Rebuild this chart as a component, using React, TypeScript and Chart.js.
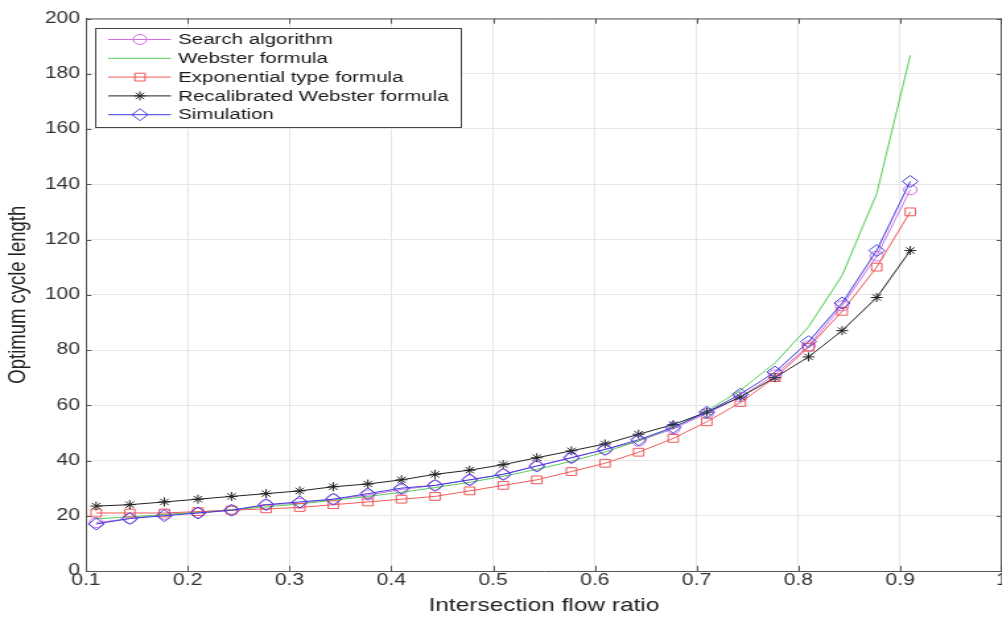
import React, { useEffect, useRef } from "react";
import { Chart, registerables } from "chart.js";

Chart.register(...registerables);

// ---- data ----
const flowRatio = [
  0.11, 0.143, 0.177, 0.21, 0.243, 0.277, 0.31, 0.343, 0.377, 0.41, 0.443, 0.477,
  0.51, 0.543, 0.577, 0.61, 0.643, 0.677, 0.71, 0.743, 0.777, 0.81, 0.843, 0.877, 0.91,
];
const searchAlgorithm = [
  17.5, 19, 20.5, 21, 22, 24, 24.5, 26, 27.5, 29.5, 31, 33, 35, 38, 41, 44, 47, 51.5,
  57, 63, 71, 81.5, 96, 114, 138,
];
const websterFormula = [
  18.9, 19.6, 20.4, 21.3, 22.2, 23.2, 24.3, 25.6, 27.0, 28.5, 30.2, 32.1, 34.3, 36.8,
  39.7, 43.1, 47.1, 52.0, 57.9, 65.4, 75.3, 88.4, 107, 136.6, 186.7,
];
const exponentialFormula = [
  21, 21, 21, 21.5, 22, 22.5, 23, 24, 25, 26, 27, 29, 31, 33, 36, 39, 43, 48, 54, 61,
  70, 81, 94, 110, 130,
];
const recalibratedWebster = [
  23.5, 24, 25, 26, 27, 28, 29, 30.5, 31.5, 33, 35, 36.5, 38.5, 41, 43.5, 46, 49.5, 53,
  57.5, 63, 70, 77.5, 87, 99, 116,
];
const simulation = [
  17, 19, 20, 21, 22, 24, 25, 26, 28, 30, 31, 33, 35, 38, 41, 44, 47.5, 52, 57.5, 64,
  72, 83, 97, 116, 141,
];
const seriesNames = [
  "Search algorithm",
  "Webster formula",
  "Exponential type formula",
  "Recalibrated Webster formula",
  "Simulation",
];
const xTicks = [0.1, 0.2, 0.3, 0.4, 0.5, 0.6, 0.7, 0.8, 0.9, 1.0];
const xTickLabels = ["0.1", "0.2", "0.3", "0.4", "0.5", "0.6", "0.7", "0.8", "0.9", "1"];
const yTicks = [0, 20, 40, 60, 80, 100, 120, 140, 160, 180, 200];
const xTitle = "Intersection flow ratio";
const yTitle = "Optimum cycle length";

// ---- styles ----
const STRETCH = 1.32;
const CANVAS_W = 766;
const CANVAS_H = 617;
const FONT = "'Liberation Sans', Arial, Helvetica, sans-serif";

const styles = [
  { color: "#d070e0", point: "circle", radius: 5 },
  { color: "#55cc55", point: false, radius: 0 },
  { color: "#ee5a5a", point: "rect", radius: 5.5 },
  { color: "#222222", point: "star", radius: 4.5 },
  { color: "#3c3cdc", point: "rectRot", radius: 6 },
];

function drawPointLocal(ctx: CanvasRenderingContext2D, style: string, r: number, x: number, y: number, color: string) {
  ctx.save();
  ctx.strokeStyle = color;
  ctx.lineWidth = 1;
  ctx.beginPath();
  if (style === "circle") {
    ctx.arc(x, y, r, 0, Math.PI * 2);
  } else if (style === "rect") {
    const s = Math.SQRT1_2 * r;
    ctx.rect(x - s, y - s, 2 * s, 2 * s);
  } else if (style === "rectRot") {
    ctx.moveTo(x - r, y);
    ctx.lineTo(x, y - r);
    ctx.lineTo(x + r, y);
    ctx.lineTo(x, y + r);
    ctx.closePath();
  } else if (style === "star") {
    for (let k = 0; k < 4; k++) {
      const ang = (k * Math.PI) / 4;
      ctx.moveTo(x - Math.cos(ang) * r, y - Math.sin(ang) * r);
      ctx.lineTo(x + Math.cos(ang) * r, y + Math.sin(ang) * r);
    }
  }
  ctx.stroke();
  ctx.restore();
}

const frameTicks = {
  id: "frameTicks",
  beforeDatasetsDraw(chart: any) {
    const { ctx, chartArea: a, scales } = chart;
    ctx.save();
    ctx.strokeStyle = "#555";
    ctx.lineWidth = 1;
    ctx.beginPath();
    ctx.moveTo(a.left, a.top + 0.5);
    ctx.lineTo(a.right, a.top + 0.5);
    ctx.moveTo(a.right - 0.5, a.top);
    ctx.lineTo(a.right - 0.5, a.bottom);
    const tl = 4;
    for (const v of xTicks) {
      const x = Math.round(scales.x.getPixelForValue(v)) + 0.5;
      ctx.moveTo(x, a.bottom);
      ctx.lineTo(x, a.bottom - tl * 1.3);
      ctx.moveTo(x, a.top);
      ctx.lineTo(x, a.top + tl * 1.3);
    }
    for (const v of yTicks) {
      const y = Math.round(scales.y.getPixelForValue(v)) + 0.5;
      ctx.moveTo(a.left, y);
      ctx.lineTo(a.left + tl, y);
      ctx.moveTo(a.right, y);
      ctx.lineTo(a.right - tl, y);
    }
    ctx.stroke();
    ctx.restore();
  },
};

const legendBox = {
  id: "legendBox",
  afterDraw(chart: any) {
    const { ctx } = chart;
    const bx = 72, by = 28, bw = 277, bh = 99;
    ctx.save();
    ctx.fillStyle = "#ffffff";
    ctx.fillRect(bx, by, bw, bh);
    ctx.strokeStyle = "#444";
    ctx.lineWidth = 1;
    ctx.strokeRect(bx + 0.5, by + 0.5, bw, bh);
    const rowY0 = 39.5, rowStep = 18.8;
    ctx.font = `15.5px ${FONT}`;
    ctx.textBaseline = "middle";
    ctx.textAlign = "left";
    seriesNames.forEach((name, i) => {
      const y = rowY0 + i * rowStep;
      const st = styles[i];
      ctx.strokeStyle = st.color;
      ctx.lineWidth = 1;
      ctx.beginPath();
      ctx.moveTo(82, y);
      ctx.lineTo(129.5, y);
      ctx.stroke();
      if (st.point) {
        drawPointLocal(ctx, st.point as string, st.radius, 106, y, st.color);
      }
      ctx.fillStyle = "#1a1a1a";
      ctx.fillText(name, 135, y + 0.5);
    });
    ctx.restore();
  },
};

export default function App() {
  const ref = useRef<HTMLCanvasElement | null>(null);

  useEffect(() => {
    if (!ref.current) return;
    const allSeries = [searchAlgorithm, websterFormula, exponentialFormula, recalibratedWebster, simulation];
    const datasets = allSeries.map((vals, i) => ({
      label: seriesNames[i],
      data: vals.map((v, k) => ({ x: flowRatio[k], y: v })),
      borderColor: styles[i].color,
      backgroundColor: "rgba(0,0,0,0)",
      borderWidth: 1,
      pointStyle: styles[i].point as any,
      pointRadius: styles[i].radius,
      pointBorderWidth: 1,
      pointBorderColor: styles[i].color,
      pointBackgroundColor: "rgba(0,0,0,0)",
      tension: 0,
      order: 4 - i,
    }));

    const chart = new Chart(ref.current, {
      type: "line",
      data: { datasets },
      options: {
        animation: false,
        responsive: false,
        devicePixelRatio: 1,
        layout: { padding: { top: 18.5, right: 4.6, left: 0, bottom: 0 } },
        plugins: { legend: { display: false }, tooltip: { enabled: false } },
        scales: {
          x: {
            type: "linear",
            min: 0.1,
            max: 1.0,
            afterBuildTicks: (s: any) => {
              s.ticks = xTicks.map((v) => ({ value: v }));
            },
            afterFit: (s: any) => {
              s.height = 46;
            },
            ticks: {
              callback: (_v: any, i: number) => xTickLabels[i],
              padding: 0,
              maxRotation: 0,
              autoSkip: false,
              color: "#333",
              font: { family: FONT, size: 16 },
            },
            grid: { color: "#e6e6e6", drawTicks: false, lineWidth: 1 },
            border: { color: "#555", width: 1 },
            title: {
              display: true,
              text: xTitle,
              color: "#222",
              font: { family: FONT, size: 18.5 },
              padding: { top: 0, bottom: 0 },
            },
          },
          y: {
            type: "linear",
            min: 0,
            max: 200,
            afterBuildTicks: (s: any) => {
              s.ticks = yTicks.map((v) => ({ value: v }));
            },
            afterFit: (s: any) => {
              s.width = 65.15;
            },
            ticks: {
              padding: 4.5,
              color: "#333",
              font: { family: FONT, size: 16 },
            },
            grid: { color: "#e6e6e6", drawTicks: false, lineWidth: 1 },
            border: { color: "#555", width: 1 },
            title: {
              display: true,
              text: yTitle,
              color: "#222",
              font: { family: FONT, size: 18.5 },
              padding: { top: 2.5, bottom: 0 },
            },
          },
        },
      },
      plugins: [frameTicks, legendBox],
    });
    return () => chart.destroy();
  }, []);

  return (
    <div
      style={{
        position: "absolute",
        left: 0,
        top: 0,
        width: 1002,
        height: 617,
        overflow: "hidden",
        background: "#ffffff",
      }}
    >
      <canvas
        ref={ref}
        width={CANVAS_W}
        height={CANVAS_H}
        style={{
          display: "block",
          width: CANVAS_W,
          height: CANVAS_H,
          transform: `scaleX(${STRETCH})`,
          transformOrigin: "0 0",
        }}
      />
    </div>
  );
}
